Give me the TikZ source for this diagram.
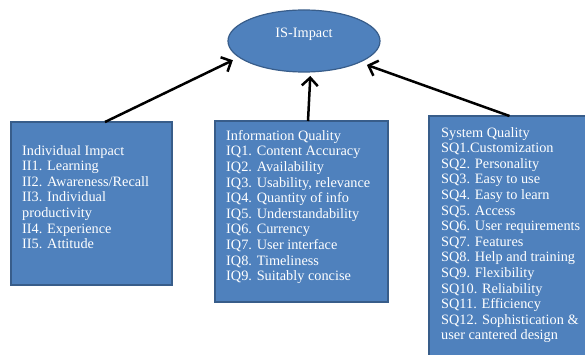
\documentclass[tikz,border=0pt]{standalone}
\usepackage{fontspec}
\setmainfont{Liberation Serif}
\usetikzlibrary{arrows.meta,shapes.geometric,calc}
\definecolor{boxblue}{HTML}{4F81BD}
\definecolor{boxedge}{HTML}{385D8A}
\begin{document}
\begin{tikzpicture}[x=1pt,y=-1pt,
  box/.style={draw=boxedge, line width=1.2pt, fill=boxblue, anchor=north west, inner sep=0pt, outer sep=0pt},
  txt/.style={text=white, font=\fontsize{14.3}{15.6}\selectfont, align=left, inner sep=0pt, anchor=north west},
  arr/.style={line width=2.5pt, -{Straight Barb[length=8pt,width=16pt]}}]
\clip (0,0) rectangle (585,355);
\fill[white] (0,0) rectangle (585,355);
% top ellipse
\node[ellipse, draw=boxedge, line width=1.2pt, fill=boxblue, minimum width=152pt, minimum height=62pt, inner sep=0pt, outer sep=0pt] (imp) at (304,41) {};
\node[text=white, font=\fontsize{14.3}{15.6}\selectfont, inner sep=0pt] (impt) at ([yshift=7pt]imp.center) {IS-Impact};
% boxes
\node[box, minimum width=161pt, minimum height=163pt] (ii) at (11,122) {};
\node[box, minimum width=173pt, minimum height=181pt] (iq) at (215,121) {};
\node[box, minimum width=170pt, minimum height=260pt] (sq) at (429,116) {};
% texts
\node[txt] (iit) at (22,145) {Individual Impact\\II1. Learning\\II2. Awareness/Recall\\II3. Individual\\productivity\\II4. Experience\\II5. Attitude};
\node[txt] (iqt) at (226,130) {Information Quality\\IQ1. Content Accuracy\\IQ2. Availability\\IQ3. Usability, relevance\\IQ4. Quantity of info\\IQ5. Understandability\\IQ6. Currency\\IQ7. User interface\\IQ8. Timeliness\\IQ9. Suitably concise};
\node[txt] (sqt) at (441,127) {System Quality\\SQ1.Customization\\SQ2. Personality\\SQ3. Easy to use\\SQ4. Easy to learn\\SQ5. Access\\SQ6. User requirements\\SQ7. Features\\SQ8. Help and training\\SQ9. Flexibility\\SQ10. Reliability\\SQ11. Efficiency\\SQ12. Sophistication \&\\user cantered design};
% arrows
\draw[arr, shorten >=7pt] ([xshift=13.5pt]ii.north) -- (imp.194);
\draw[arr, shorten >=4pt] ([xshift=6.5pt]iq.north) -- ([xshift=6.5pt]imp.south);
\draw[arr, shorten >=8pt] ([xshift=-4.5pt]sq.north) -- (imp.339);
\end{tikzpicture}
\end{document}
